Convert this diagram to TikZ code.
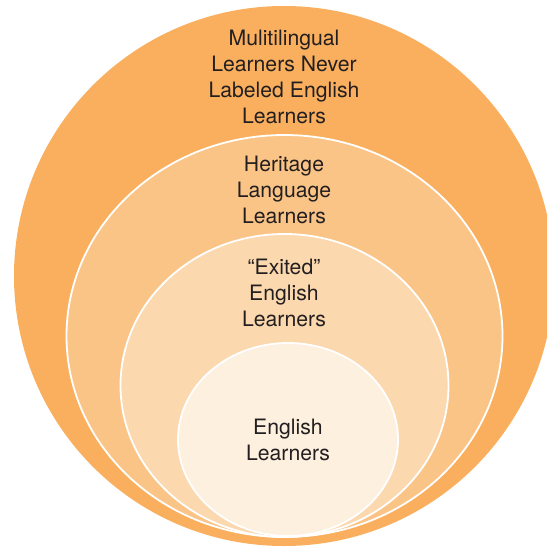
\documentclass[tikz,border=0pt]{standalone}
\usepackage{fontspec}
\setmainfont{TeX Gyre Heros}
\usepackage{tikz}

\definecolor{ringout}{HTML}{F9AF5E}
\definecolor{ringher}{HTML}{FBC487}
\definecolor{ringexit}{HTML}{FCD8AF}
\definecolor{ringel}{HTML}{FEF0DF}
\definecolor{txtgray}{HTML}{231F20}

\tikzset{
  ring/.style={draw=white, line width=1.8pt},
  lbl/.style={align=center, text=txtgray, inner sep=0pt,
    font=\fontsize{21.2}{25.9}\selectfont}
}

\begin{document}
\begin{tikzpicture}[x=1pt,y=-1pt]
\clip (0,0) rectangle (547,548);
\fill[ringout] (284,276) circle [radius=270pt];
\filldraw[ring, fill=ringher] (284.5,336) ellipse [x radius=218pt, y radius=201pt];
\filldraw[ring, fill=ringexit] (284.5,385.5) ellipse [x radius=164pt, y radius=151.5pt];
\filldraw[ring, fill=ringel] (288,439.5) ellipse [x radius=110pt, y radius=96.5pt];
\node[lbl] (never) at (284,77) {Mulitilingual\\Learners Never\\Labeled English\\Learners};
\node[lbl] (heritage) at (284,190) {Heritage\\Language\\Learners};
\node[lbl] (exited) at (284,293) {``Exited''\\English\\Learners};
\node[lbl] (el) at (288,440) {English\\Learners};
\end{tikzpicture}
\end{document}
